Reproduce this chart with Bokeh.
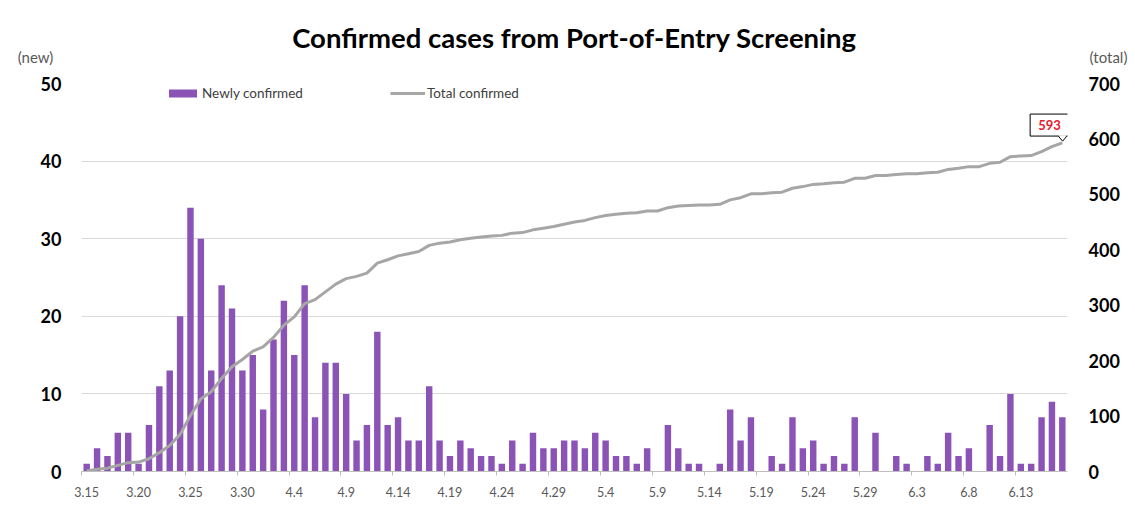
import pandas as pd
from bokeh.plotting import figure
from bokeh.models import (Range1d, LinearAxis, FixedTicker, Label, Legend,
                          LegendItem, Grid)
from bokeh.embed import file_html
from bokeh.resources import INLINE

# ---------------- data ----------------
dates = [f"{d.month}.{d.day}" for d in pd.date_range("2020-03-15", "2020-06-17")]

new_confirmed = [
    1, 3, 2, 5, 5, 1, 6, 11, 13, 20, 34, 30, 13, 24, 21, 13, 15, 8, 17, 22,
    15, 24, 7, 14, 14, 10, 4, 6, 18, 6, 7, 4, 4, 11, 4, 2, 4, 3, 2, 2,
    1, 4, 1, 5, 3, 3, 4, 4, 3, 5, 4, 2, 2, 1, 3, 0, 6, 3, 1, 1,
    0, 1, 8, 4, 7, 0, 2, 1, 7, 3, 4, 1, 2, 1, 7, 0, 5, 0, 2, 1,
    0, 2, 1, 5, 2, 3, 0, 6, 2, 10, 1, 1, 7, 9, 7,
]

total_confirmed = [
    1, 4, 6, 11, 16, 17, 23, 34, 47, 67, 101, 131, 144, 168, 189, 202, 217, 225, 242, 264,
    279, 303, 310, 324, 338, 348, 352, 358, 376, 382, 389, 393, 397, 408, 412, 414, 418, 421, 423, 425,
    426, 430, 431, 436, 439, 442, 446, 450, 453, 458, 462, 464, 466, 467, 470, 470, 476, 479, 480, 481,
    481, 482, 490, 494, 501, 501, 503, 504, 511, 514, 518, 519, 521, 522, 529, 529, 534, 534, 536, 537,
    537, 539, 540, 545, 547, 550, 550, 556, 558, 568, 569, 570, 577, 586, 593,
]

left_ticks = [0, 10, 20, 30, 40, 50]
right_ticks = [0, 100, 200, 300, 400, 500, 600, 700]
label_idx = list(range(0, len(dates), 5))

title_text = "Confirmed cases from Port-of-Entry Screening"
final_total = total_confirmed[-1]

# ---------------- figure ----------------
FONT = "Lato"
W, H = 1135, 529
n = len(dates)
xs = list(range(n))

p = figure(width=W, height=H, output_backend="svg", toolbar_location=None,
           x_range=Range1d(-0.5, n - 0.5), y_range=Range1d(0, 50),
           x_axis_type=None, y_axis_type=None,
           min_border_left=81, min_border_right=68, min_border_top=83, min_border_bottom=58)
p.outline_line_color = None
p.background_fill_color = "white"
p.border_fill_color = "white"
p.extra_y_ranges = {"total": Range1d(0, 700)}

p.title.text = title_text
p.title.align = "center"
p.title.text_font = FONT
p.title.text_font_style = "bold"
p.title.text_font_size = "27.5px"
p.title.text_color = "#000000"
p.title.standoff = 23

# left axis
yaxis = LinearAxis(ticker=FixedTicker(ticks=left_ticks))
yaxis.axis_line_color = None
yaxis.major_tick_line_color = None
yaxis.minor_tick_line_color = None
yaxis.major_tick_out = 0
yaxis.major_tick_in = 0
yaxis.major_label_text_font = FONT
yaxis.major_label_text_font_style = "bold"
yaxis.major_label_text_font_size = "18px"
yaxis.major_label_text_color = "#000000"
yaxis.major_label_standoff = 20
p.add_layout(yaxis, "left")

p.add_layout(Grid(dimension=1, ticker=yaxis.ticker, grid_line_color="#D9D9D9"))

# right axis
raxis = LinearAxis(y_range_name="total", ticker=FixedTicker(ticks=right_ticks))
raxis.axis_line_color = None
raxis.major_tick_line_color = None
raxis.minor_tick_line_color = None
raxis.major_tick_out = 0
raxis.major_tick_in = 0
raxis.major_label_text_font = FONT
raxis.major_label_text_font_style = "bold"
raxis.major_label_text_font_size = "18px"
raxis.major_label_text_color = "#000000"
raxis.major_label_standoff = 21
p.add_layout(raxis, "right")

# bottom axis: tick marks at category boundaries
bticks = [i - 0.5 for i in label_idx]
xaxis1 = LinearAxis(ticker=FixedTicker(ticks=bticks))
xaxis1.major_label_overrides = {t: "" for t in bticks}
xaxis1.major_label_text_font_size = "0px"
xaxis1.major_label_standoff = 0
xaxis1.axis_line_color = "#BFBFBF"
xaxis1.major_tick_line_color = "#BFBFBF"
xaxis1.major_tick_out = 4
xaxis1.major_tick_in = 0
xaxis1.minor_tick_line_color = None
p.add_layout(xaxis1, "below")

# bottom axis: date labels under bars
xaxis2 = LinearAxis(ticker=FixedTicker(ticks=label_idx))
xaxis2.major_label_overrides = {i: dates[i] for i in label_idx}
xaxis2.axis_line_color = None
xaxis2.major_tick_line_color = None
xaxis2.minor_tick_line_color = None
xaxis2.major_label_text_font = FONT
xaxis2.major_label_text_font_size = "12.5px"
xaxis2.major_label_text_color = "#595959"
xaxis2.major_label_standoff = 5
p.add_layout(xaxis2, "below")

# glyphs
bars = p.vbar(x=xs, top=new_confirmed, width=0.62, fill_color="#8B53B6", line_color=None)
line = p.line(x=xs, y=total_confirmed, y_range_name="total", line_color="#A6A6A6", line_width=3)

# legend
legend = Legend(items=[LegendItem(label="Newly confirmed", renderers=[bars]),
                       LegendItem(label="Total confirmed", renderers=[line])],
                orientation="horizontal", location=(84, 370),
                glyph_width=35, glyph_height=10, label_standoff=2,
                label_text_font=FONT, label_text_font_size="13.5px",
                label_text_color="#404040", spacing=82, padding=0, margin=0,
                border_line_color=None, background_fill_alpha=0,
                label_width=106, label_height=14)
p.add_layout(legend)

# unit labels, placed in side panels (not clipped to the frame)
p.add_layout(Label(x=1027, y=26.5, x_units="screen", y_units="screen", text="(total)",
                   text_align="center", text_baseline="middle",
                   text_font=FONT, text_font_size="15px", text_color="#595959"), "above")
p.add_layout(Label(x=34, y=414.5, x_units="screen", y_units="screen", text="(new)",
                   text_align="center", text_baseline="middle",
                   text_font=FONT, text_font_size="15px", text_color="#595959"), "left")

# callout for final total
p.add_layout(Label(x=92.76, y=625, y_range_name="total", text=str(final_total),
                   text_align="center", text_baseline="middle",
                   text_font=FONT, text_font_style="bold", text_font_size="13px",
                   text_color="#E8192C", background_fill_color="white",
                   border_line_color="#000000", border_line_width=1, padding=(8, 6)))
tip_x = xs[-1] + 0.03
p.patch(x=[93.64, tip_x, 94.41], y=[606.5, 596, 606.5], y_range_name="total",
        fill_color="white", line_color=None, level="overlay")
p.line(x=[93.64, tip_x, 94.41], y=[604.5, 596, 604.5], y_range_name="total",
       line_color="#000000", line_width=1, level="overlay")

open("out.html", "w").write(file_html(p, INLINE))
